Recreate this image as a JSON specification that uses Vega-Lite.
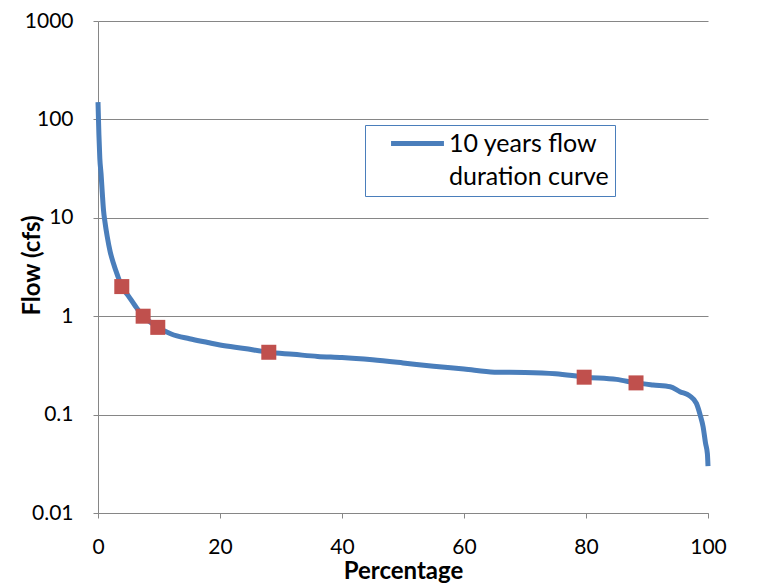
{
  "$schema": "https://vega.github.io/schema/vega-lite/v6.json",
  "width": 610,
  "height": 492,
  "autosize": {"type": "none"},
  "padding": {"left": 98, "top": 21, "right": 69, "bottom": 75},
  "background": "white",
  "config": {
    "font": "Lato",
    "view": {"stroke": null},
    "axis": {
      "labelFont": "Lato",
      "labelFontSize": 21,
      "labelColor": "#000000",
      "titleFont": "Lato",
      "titleFontSize": 24,
      "titleFontWeight": "bold",
      "titleColor": "#000000",
      "domainColor": "#868686",
      "tickColor": "#868686",
      "gridColor": "#868686",
      "tickSize": 5
    }
  },
  "datasets": {
    "curve": [
      {"pct": 0, "flow": 150, "series": "10 years flow duration curve"},
      {"pct": 0.15, "flow": 70, "series": "10 years flow duration curve"},
      {"pct": 0.3, "flow": 40, "series": "10 years flow duration curve"},
      {"pct": 0.5, "flow": 28, "series": "10 years flow duration curve"},
      {"pct": 0.7, "flow": 18, "series": "10 years flow duration curve"},
      {"pct": 0.9, "flow": 12, "series": "10 years flow duration curve"},
      {"pct": 1.15, "flow": 9, "series": "10 years flow duration curve"},
      {"pct": 1.5, "flow": 6.5, "series": "10 years flow duration curve"},
      {"pct": 2.0, "flow": 4.5, "series": "10 years flow duration curve"},
      {"pct": 2.5, "flow": 3.5, "series": "10 years flow duration curve"},
      {"pct": 3.2, "flow": 2.6, "series": "10 years flow duration curve"},
      {"pct": 3.9, "flow": 2.0, "series": "10 years flow duration curve"},
      {"pct": 5, "flow": 1.6, "series": "10 years flow duration curve"},
      {"pct": 6, "flow": 1.3, "series": "10 years flow duration curve"},
      {"pct": 7.4, "flow": 1.0, "series": "10 years flow duration curve"},
      {"pct": 8.5, "flow": 0.88, "series": "10 years flow duration curve"},
      {"pct": 9.8, "flow": 0.77, "series": "10 years flow duration curve"},
      {"pct": 12, "flow": 0.66, "series": "10 years flow duration curve"},
      {"pct": 15, "flow": 0.59, "series": "10 years flow duration curve"},
      {"pct": 18, "flow": 0.54, "series": "10 years flow duration curve"},
      {"pct": 20, "flow": 0.51, "series": "10 years flow duration curve"},
      {"pct": 24, "flow": 0.47, "series": "10 years flow duration curve"},
      {"pct": 28, "flow": 0.43, "series": "10 years flow duration curve"},
      {"pct": 32, "flow": 0.41, "series": "10 years flow duration curve"},
      {"pct": 36, "flow": 0.39, "series": "10 years flow duration curve"},
      {"pct": 40, "flow": 0.38, "series": "10 years flow duration curve"},
      {"pct": 45, "flow": 0.36, "series": "10 years flow duration curve"},
      {"pct": 50, "flow": 0.335, "series": "10 years flow duration curve"},
      {"pct": 55, "flow": 0.31, "series": "10 years flow duration curve"},
      {"pct": 60, "flow": 0.29, "series": "10 years flow duration curve"},
      {"pct": 65, "flow": 0.27, "series": "10 years flow duration curve"},
      {"pct": 70, "flow": 0.268, "series": "10 years flow duration curve"},
      {"pct": 75, "flow": 0.26, "series": "10 years flow duration curve"},
      {"pct": 80, "flow": 0.24, "series": "10 years flow duration curve"},
      {"pct": 85, "flow": 0.228, "series": "10 years flow duration curve"},
      {"pct": 88.2, "flow": 0.21, "series": "10 years flow duration curve"},
      {"pct": 91, "flow": 0.2, "series": "10 years flow duration curve"},
      {"pct": 93.8, "flow": 0.192, "series": "10 years flow duration curve"},
      {"pct": 95.4, "flow": 0.171, "series": "10 years flow duration curve"},
      {"pct": 97, "flow": 0.155, "series": "10 years flow duration curve"},
      {"pct": 98.1, "flow": 0.13, "series": "10 years flow duration curve"},
      {"pct": 98.7, "flow": 0.1, "series": "10 years flow duration curve"},
      {"pct": 99.2, "flow": 0.075, "series": "10 years flow duration curve"},
      {"pct": 99.6, "flow": 0.051, "series": "10 years flow duration curve"},
      {"pct": 99.9, "flow": 0.04, "series": "10 years flow duration curve"},
      {"pct": 100, "flow": 0.03, "series": "10 years flow duration curve"}
    ],
    "markers": [
      {"pct": 3.9, "flow": 2.0},
      {"pct": 7.4, "flow": 1.0},
      {"pct": 9.8, "flow": 0.77},
      {"pct": 28.0, "flow": 0.43},
      {"pct": 79.7, "flow": 0.24},
      {"pct": 88.2, "flow": 0.21}
    ]
  },
  "encoding": {
    "x": {
      "field": "pct",
      "type": "quantitative",
      "scale": {"domain": [0, 100], "nice": false, "zero": false},
      "axis": {
        "title": "Percentage",
        "values": [0, 20, 40, 60, 80, 100],
        "grid": false,
        "labelPadding": 18,
        "labelFlush": false,
        "titleY": 58,
        "titleBaseline": "middle"
      }
    },
    "y": {
      "field": "flow",
      "type": "quantitative",
      "scale": {"type": "log", "domain": [0.01, 1000], "nice": false},
      "axis": {
        "title": "Flow (cfs)",
        "values": [0.01, 0.1, 1, 10, 100, 1000],
        "format": "~g",
        "grid": true,
        "labelPadding": 20,
        "labelFlush": false,
        "titleX": -66,
        "titleY": 244,
        "titleAngle": -90,
        "titleBaseline": "middle",
        "titleAlign": "center"
      }
    }
  },
  "layer": [
    {
      "data": {"name": "curve"},
      "mark": {"type": "line", "strokeWidth": 5, "interpolate": "monotone"},
      "encoding": {
        "color": {
          "field": "series",
          "type": "nominal",
          "scale": {"range": ["#4a7ebb"]},
          "legend": {
            "title": null,
            "orient": "none",
            "legendX": 267,
            "legendY": 104,
            "padding": 6,
            "strokeColor": "#4a7ebb",
            "fillColor": "white",
            "symbolType": "M-3,0H3",
            "symbolSize": 311,
            "symbolStrokeWidth": 5,
            "symbolOffset": 34,
            "labelOffset": 19,
            "labelFont": "Lato",
            "labelFontSize": 25,
            "labelColor": "#000000",
            "labelLimit": 300,
            "labelExpr": "['10 years flow', 'duration curve']",
            "encode": {
              "labels": {"update": {"lineHeight": {"value": 33}}}
            }
          }
        }
      }
    },
    {
      "data": {"name": "markers"},
      "mark": {"type": "square", "size": 225, "color": "#c0504d", "opacity": 1, "filled": true}
    }
  ]
}
